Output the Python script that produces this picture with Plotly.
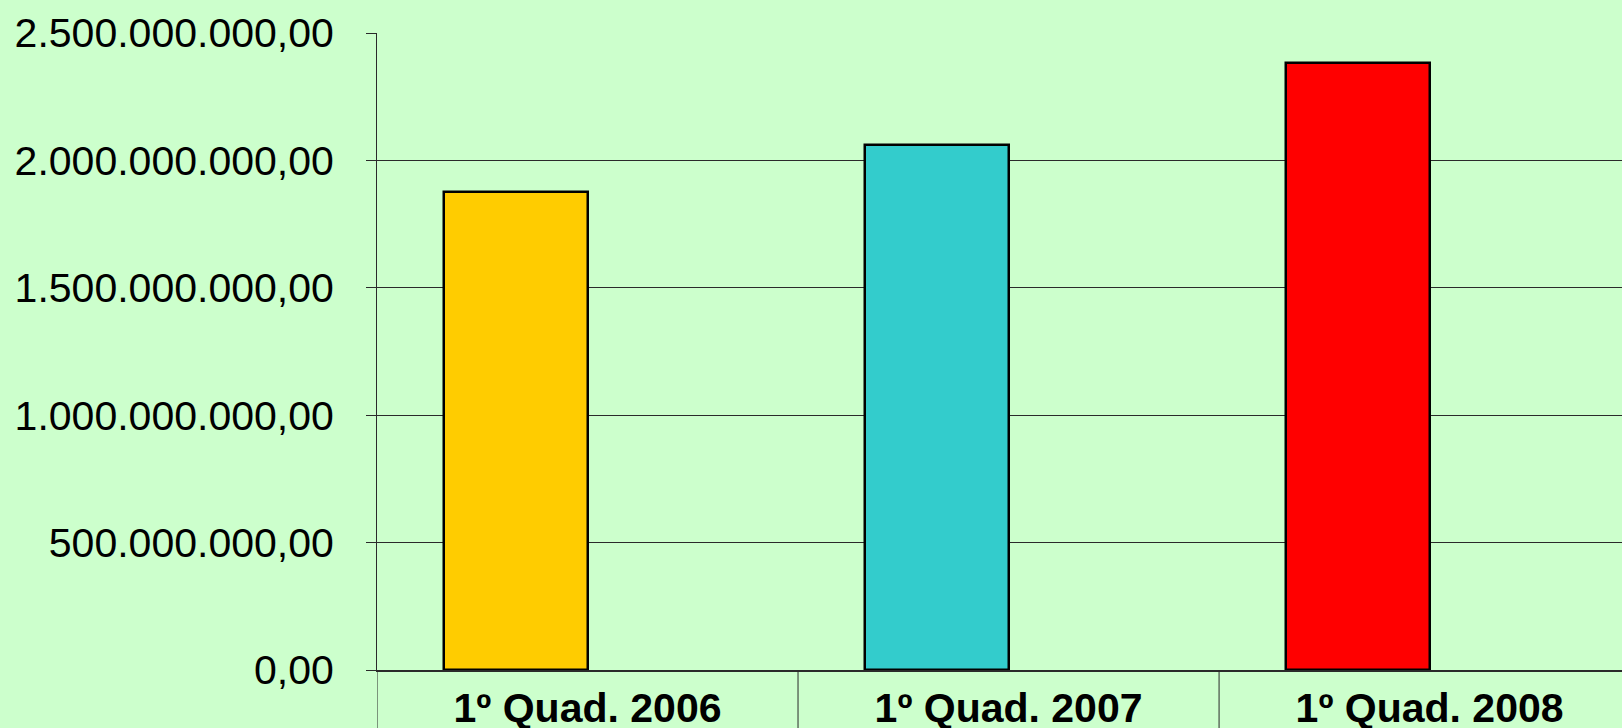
import plotly.graph_objects as go

categories = ["1º Quad. 2006", "1º Quad. 2007", "1º Quad. 2008"]
values = [1877000000, 2061000000, 2381000000]
bar_colors = ["#FFCC00", "#33CCCC", "#FF0000"]
y_ticks = [0, 500000000, 1000000000, 1500000000, 2000000000, 2500000000]

bg = "#CCFFCC"
line_col = "#2a2a2a"

fig = go.Figure()
fig.add_trace(go.Bar(
    x=categories, y=values,
    marker=dict(color=bar_colors, line=dict(color="black", width=2.5)),
    width=0.34, offset=-0.34,
    showlegend=False,
))

# category boundary lines below the axis
for xb in [-0.5, 0.5, 1.5]:
    fig.add_shape(type="line", xref="x", yref="paper", x0=xb, x1=xb, y0=0, y1=-0.12,
                  line=dict(color=line_col, width=1))

fig.update_layout(
    width=1622, height=728,
    paper_bgcolor=bg, plot_bgcolor=bg,
    margin=dict(l=377, r=0, t=33, b=58, autoexpand=False),
    separators=",.",
    font=dict(family="Liberation Sans, Arial, sans-serif", color="black"),
    bargap=0,
)
fig.update_xaxes(
    type="category", range=[-0.5, 2.457], automargin=False,
    showline=True, linecolor=line_col, linewidth=2,
    showgrid=False, ticks="",
    ticklabelstandoff=1,
    tickfont=dict(size=41, family="Liberation Sans, Arial, sans-serif", weight="bold"),
)
fig.update_yaxes(
    range=[0, 2500000000], tickvals=y_ticks, tickformat=",.2f", automargin=False,
    showline=True, linecolor=line_col, linewidth=1,
    showgrid=True, gridcolor=line_col, gridwidth=1,
    ticks="outside", ticklen=10, tickcolor=line_col,
    ticklabelstandoff=24,
    tickfont=dict(size=41),
    zeroline=False,
)

fig.write_html(
    "out.html",
    config={"displayModeBar": False},
    post_script="document.body.style.margin='0';document.body.style.overflow='hidden';",
)
